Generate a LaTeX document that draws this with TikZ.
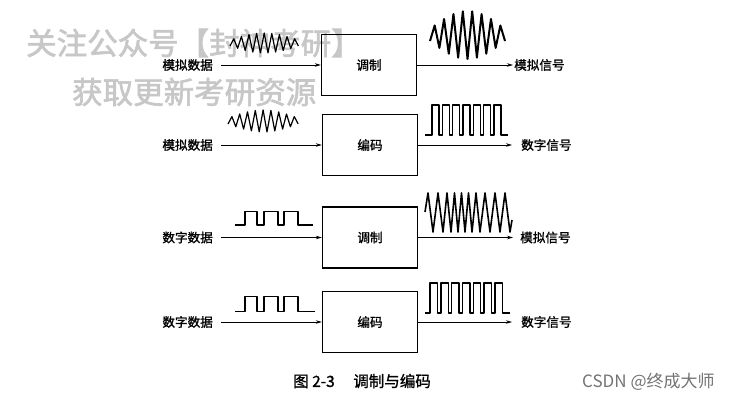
\documentclass[tikz,border=0pt]{standalone}
\usepackage{fontspec}
\newfontfamily\cjk[FakeBold=1.2]{Noto Sans CJK SC}
\newfontfamily\cjkwm[FakeBold=2]{Noto Sans CJK SC}
\newfontfamily\cjkplain{Noto Sans CJK SC}
\usetikzlibrary{arrows.meta}

\begin{document}
\begin{tikzpicture}[x=1pt,y=-1pt,
	every node/.style={font=\cjk\fontsize{12.6}{12.6}\selectfont,inner sep=0pt},
	blk/.style={draw,line width=1.3pt,minimum width=95pt,minimum height=61pt},
	wire/.style={line width=0.8pt,-{Stealth[length=6pt,width=3.5pt]}},
	wave/.style={line width=1.4pt,line join=round}]
\useasboundingbox (0,0) rectangle (736,401);
% watermark
\node[anchor=west,text=black!22,font=\cjkwm\fontsize{30.5}{30.5}\selectfont] (wm1) at (26,43) {关注公众号【封神考研】};
\node[anchor=west,text=black!22,font=\cjkwm\fontsize{30.5}{30.5}\selectfont] (wm2) at (72,92) {获取更新考研资源};
% blocks
\node[blk] (m1) at (369,65) {调制};
\node[blk] (m2) at (370,145) {编码};
\node[blk] (m3) at (370,237.5) {调制};
\node[blk] (m4) at (370,322) {编码};
% inputs and outputs
\node[anchor=east] (in1) at (213,65) {模拟数据};
\node[anchor=east] (in2) at (213,145) {模拟数据};
\node[anchor=east] (in3) at (213,237.5) {数字数据};
\node[anchor=east] (in4) at (213,322) {数字数据};
\node[anchor=west] (out1) at (514,65) {模拟信号};
\node[anchor=west] (out2) at (521,145) {数字信号};
\node[anchor=west] (out3) at (520,237.5) {模拟信号};
\node[anchor=west] (out4) at (521,322) {数字信号};
\foreach \i/\g in {1/1,2/9,3/7,4/9}{
	\draw[wire] ([xshift=8pt]in\i.east) -- (m\i.west);
	\draw[wire] (m\i.east) -- ([xshift=-\g pt]out\i.west);
}
% waves
\draw[wave,line width=1.2pt] plot[samples at={0,...,18}] ({230+\x*3.8},{43+cos(180*\x)*(3+7*sin(10*\x))});
\draw[wave,line width=2pt] plot[samples at={0,...,16}] ({430+\x*4.69},{35+cos(180*\x)*(6+18*sin(11.25*\x))});
\draw[wave,line width=1.2pt] plot[samples at={0,...,18}] ({228+\x*3.9},{121+cos(180*\x)*(3+8*sin(10*\x))});
\draw[wave] (425,135) -- (432,135) \foreach \i in {1,...,7}{ -- ++(0,-30) -- ++(7,0) -- ++(0,30) -- ++(3.3,0)} -- (508,135);
\draw[wave] (235,225) -| (245,211.7) -| (257,225) -| (264,211.7) -| (278,225) -| (284,211.7) -| (298,225) -- (313,225);
\draw[wave,line width=1.6pt] plot coordinates {(425,212) (428,193) (433,232) (438,193) (443,232) (447,193) (451,232) (454.5,193) (458,232) (461.5,193) (465,232) (468.5,193) (472,232) (476,193) (480,232) (485,193) (490,232) (495,193) (500,232) (505,193) (510,232) (512,220)};
\draw[wave] (235,311.7) -| (245,296.7) -| (257,311.7) -| (264,296.7) -| (278,311.7) -| (284,296.7) -| (298,311.7) -- (315,311.7);
\draw[wave] (425,313) -- (430,313) \foreach \i in {1,...,7}{ -- ++(0,-30) -- ++(7.5,0) -- ++(0,30) -- ++(3.3,0)} -- (510,313);
% caption
\node[anchor=west,font=\cjk\fontsize{15.5}{15.5}\selectfont] (cap) at (293,381) {图 2-3\hspace{1.2em}调制与编码};
\node[anchor=west,text=black!55,font=\cjkplain\fontsize{17}{17}\selectfont] (csdn) at (582,382) {CSDN @终成大师};
\end{tikzpicture}
\end{document}
